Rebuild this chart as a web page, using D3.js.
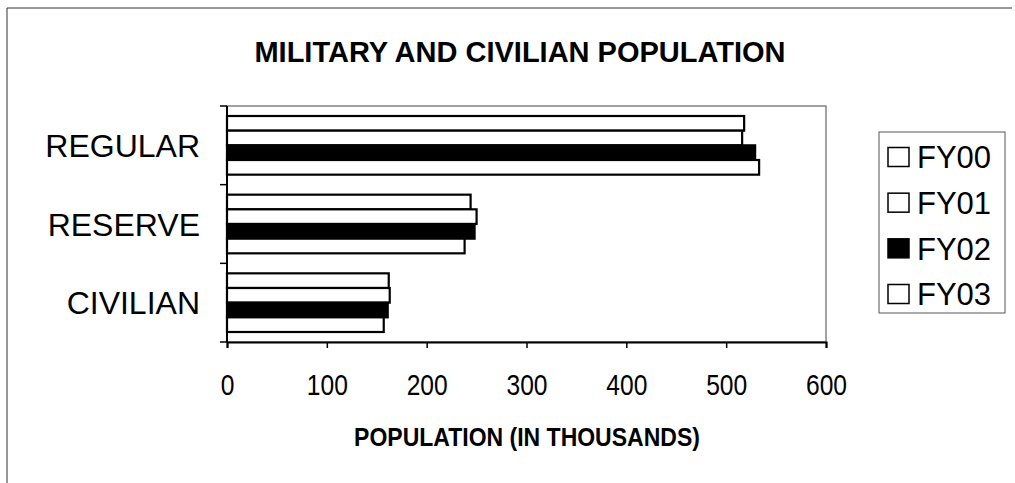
<!DOCTYPE html>
<html>
<head>
<meta charset="utf-8">
<script src="https://cdn.jsdelivr.net/npm/d3@7"></script>
<style>
  body { margin: 0; background: #fff; }
  svg { display: block; font-family: "Liberation Sans", Arial, sans-serif; }
</style>
</head>
<body>
<svg></svg>
<script>
const width = 1015;
const height = 483;

// data (thousands)
const categories = ['REGULAR', 'RESERVE', 'CIVILIAN'];
const series = ['FY00', 'FY01', 'FY02', 'FY03'];
const seriesFill = ['#fff', '#fff', '#000', '#fff'];
const regular = [518, 516, 529, 533];
const reserve = [244, 250, 248, 238];
const civilian = [162, 163, 161, 157];
const xTicks = [0, 100, 200, 300, 400, 500, 600];
const values = [regular, reserve, civilian];

const svg = d3.select('svg').attr('width', width).attr('height', height);

// outer frame (only left and top survive in the scan)
svg.append('path')
    .attr('d', `M7,${height} L7,8 L1012,8`)
    .style('fill', 'none')
    .style('stroke', '#333')
    .style('stroke-width', 1);

const plot = {left: 227, top: 106, right: 826, bottom: 342};

const x = d3.scaleLinear().domain([0, 600]).range([plot.left, plot.right]);
const y = d3.scaleBand().domain(categories).range([plot.top, plot.bottom]);
const inner = d3.scaleBand().domain(series).range([10, y.bandwidth() - 10]);

// plot area frame
svg.append('rect')
    .attr('x', plot.left).attr('y', plot.top)
    .attr('width', plot.right - plot.left).attr('height', plot.bottom - plot.top)
    .style('fill', 'none')
    .style('stroke', '#444')
    .style('stroke-width', 1);

svg.append('text')
    .attr('x', 520).attr('y', 62)
    .attr('text-anchor', 'middle')
    .style('font-weight', 'bold')
    .style('font-size', '29px')
    .text('MILITARY AND CIVILIAN POPULATION');

// bars
const groups = svg.selectAll('.group')
    .data(categories)
    .enter().append('g')
    .attr('class', 'group')
    .attr('transform', d => `translate(0,${y(d)})`);

groups.selectAll('rect')
    .data((d, i) => series.map((s, j) => ({s: s, v: values[i][j], fill: seriesFill[j]})))
    .enter().append('rect')
    .attr('x', x(0))
    .attr('y', d => inner(d.s))
    .attr('width', d => x(d.v) - x(0))
    .attr('height', inner.bandwidth())
    .style('fill', d => d.fill)
    .style('stroke', '#000')
    .style('stroke-width', 2.2);

// category axis
svg.append('line')
    .attr('x1', plot.left).attr('x2', plot.left)
    .attr('y1', plot.top).attr('y2', plot.bottom)
    .style('stroke', '#000').style('stroke-width', 2);

const bounds = categories.map(c => y(c)).concat([plot.bottom]);
svg.selectAll('.ytick')
    .data(bounds)
    .enter().append('line')
    .attr('class', 'ytick')
    .attr('x1', plot.left - 7).attr('x2', plot.left)
    .attr('y1', d => d).attr('y2', d => d)
    .style('stroke', '#000').style('stroke-width', 1.5);

svg.selectAll('.ylabel')
    .data(categories)
    .enter().append('text')
    .attr('class', 'ylabel')
    .attr('x', 200)
    .attr('y', d => y(d) + y.bandwidth() / 2)
    .attr('dy', '0.36em')
    .attr('text-anchor', 'end')
    .style('font-size', '32px')
    .text(d => d);

// value axis, labels are tall and narrow in the scan
const xAxis = svg.append('g')
    .attr('transform', `translate(0,${plot.bottom})`)
    .call(d3.axisBottom(x).tickValues(xTicks).tickSize(6).tickPadding(26));
xAxis.select('.domain').style('stroke-width', 2);
xAxis.selectAll('.tick line').style('stroke-width', 1.5);
xAxis.selectAll('.tick text')
    .attr('transform', 'scale(0.82,1)')
    .style('font-family', '"Liberation Sans", Arial, sans-serif')
    .style('font-size', '30px')
    .style('fill', '#000');

svg.append('text')
    .attr('transform', 'translate(527,446) scale(0.92,1)')
    .attr('text-anchor', 'middle')
    .style('font-weight', 'bold')
    .style('font-size', '25px')
    .text('POPULATION (IN THOUSANDS)');

// legend
const legend = svg.append('g');
legend.append('rect')
    .attr('x', 879).attr('y', 132)
    .attr('width', 126).attr('height', 181)
    .style('fill', '#fff')
    .style('stroke', '#555')
    .style('stroke-width', 1);

const rowY = d3.scalePoint().domain(series).range([157, 294]);
const items = legend.selectAll('.item')
    .data(series)
    .enter().append('g')
    .attr('class', 'item')
    .attr('transform', d => `translate(888,${rowY(d)})`);
items.append('rect')
    .attr('x', 0).attr('y', -9.5)
    .attr('width', 21).attr('height', 19)
    .style('fill', (d, i) => seriesFill[i])
    .style('stroke', '#000')
    .style('stroke-width', 1.5);
items.append('text')
    .attr('x', 29).attr('dy', '0.36em')
    .style('font-size', '31px')
    .text(d => d);
</script>
</body>
</html>
